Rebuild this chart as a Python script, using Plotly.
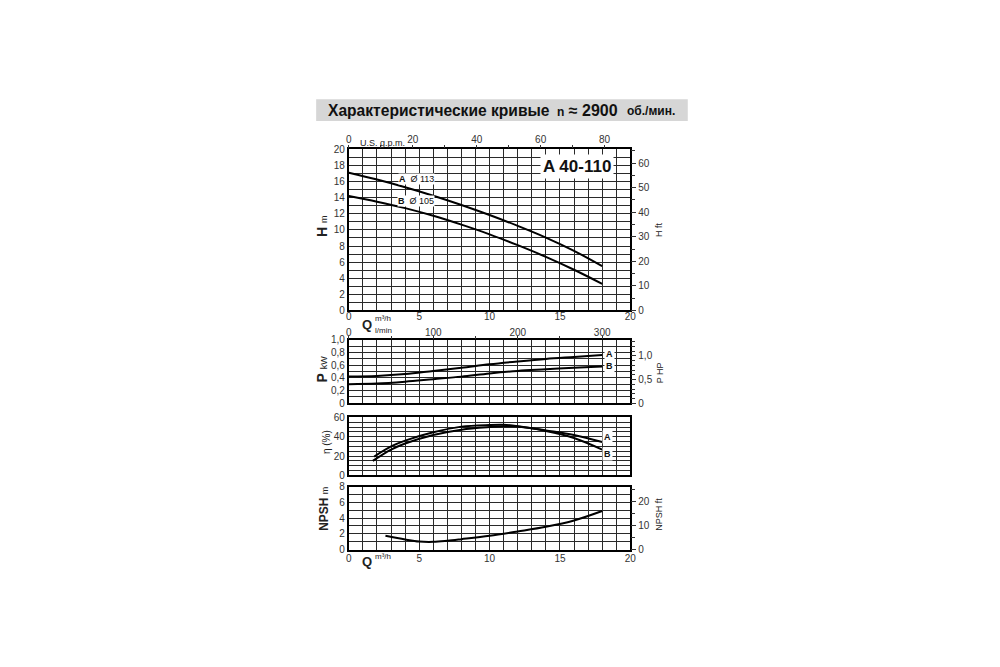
import plotly.graph_objects as go

# Q in m3/h
q_h = [0, 2, 4, 6, 8, 10, 12, 14, 16, 18]
h_a = [17.1, 16.25, 15.3, 14.25, 13.1, 11.85, 10.5, 9.05, 7.4, 5.5]
h_b = [14.2, 13.5, 12.7, 11.75, 10.65, 9.45, 8.1, 6.65, 5.05, 3.3]

q_p = [0, 2, 4, 6, 8, 10, 12, 14, 16, 18]
p_a = [0.42, 0.43, 0.46, 0.51, 0.56, 0.615, 0.66, 0.70, 0.73, 0.76]
p_b = [0.30, 0.31, 0.34, 0.38, 0.42, 0.47, 0.51, 0.535, 0.56, 0.58]

q_eff_a = [1.8, 3, 4, 6, 8, 10, 11, 12, 14, 16, 18]
eff_a = [19.5, 30, 36, 44.6, 50.5, 52.2, 52.4, 51, 46.6, 41.8, 34.5]
q_eff_b = [1.7, 3, 4, 6, 8, 10, 11, 12, 14, 16, 18]
eff_b = [15, 26.7, 33, 41.8, 47.3, 50, 50.8, 50.6, 46, 38.7, 26.7]

q_npsh = [2.6, 4, 5, 6, 7, 8, 10, 12, 14, 16, 18]
npsh = [1.75, 1.28, 1.02, 0.98, 1.12, 1.32, 1.75, 2.3, 2.9, 3.7, 4.9]

M_TO_FT = 3.2808
KW_TO_HP = 1 / 0.7457
M3H_TO_GPM = 4.4029
M3H_TO_LMIN = 16.6667

FONT = "Liberation Sans, Arial, sans-serif"
GRID = "#2a2a2a"
XDOM = [0.349, 0.633]

fig = go.Figure()

line = dict(color="black", width=2, shape="spline")
fig.add_trace(go.Scatter(x=q_h, y=h_a, mode="lines", line=line, xaxis="x", yaxis="y"))
fig.add_trace(go.Scatter(x=q_h, y=h_b, mode="lines", line=line, xaxis="x", yaxis="y"))
fig.add_trace(go.Scatter(x=q_p, y=p_a, mode="lines", line=line, xaxis="x3", yaxis="y3"))
fig.add_trace(go.Scatter(x=q_p, y=p_b, mode="lines", line=line, xaxis="x3", yaxis="y3"))
fig.add_trace(go.Scatter(x=q_eff_a, y=eff_a, mode="lines", line=line, xaxis="x5", yaxis="y5"))
fig.add_trace(go.Scatter(x=q_eff_b, y=eff_b, mode="lines", line=line, xaxis="x5", yaxis="y5"))
fig.add_trace(go.Scatter(x=q_npsh, y=npsh, mode="lines", line=line, xaxis="x6", yaxis="y6"))

# empty traces so the secondary (unit conversion) axes get drawn
for xa, ya in [("x2", "y"), ("x", "y2"), ("x4", "y3"), ("x3", "y4"), ("x6", "y7")]:
    fig.add_trace(go.Scatter(x=[None], y=[None], mode="lines", xaxis=xa, yaxis=ya,
                             hoverinfo="skip"))

tickfont = dict(family=FONT, size=10, color="#333")


def main_x(anchor, labels, standoff=0):
    return dict(
        domain=XDOM, anchor=anchor, range=[0, 20], tickmode="linear", tick0=0, dtick=5,
        showticklabels=labels, ticks="", tickfont=tickfont, ticklabelstandoff=standoff,
        showgrid=True, gridcolor=GRID, gridwidth=1,
        minor=dict(dtick=1, tick0=0, showgrid=True, gridcolor=GRID, gridwidth=1),
        showline=True, mirror=True, linecolor="black", linewidth=2, zeroline=False,
    )


def main_y(anchor, dom, rng, tickvals, ticktext, minor_dtick):
    return dict(
        domain=dom, anchor=anchor, range=rng, tickmode="array", tickvals=tickvals,
        ticktext=ticktext, ticks="", tickfont=tickfont,
        showgrid=True, gridcolor=GRID, gridwidth=1,
        minor=dict(dtick=minor_dtick, tick0=0, showgrid=True, gridcolor=GRID, gridwidth=1),
        showline=True, mirror=True, linecolor="black", linewidth=2, zeroline=False,
    )


def right_y(overlay, anchor, rng, tickvals, ticktext, minor_dtick):
    return dict(
        overlaying=overlay, anchor=anchor, side="right", range=rng, tickmode="array",
        tickvals=tickvals, ticktext=ticktext, ticks="outside", ticklen=5, tickcolor="#333",
        tickfont=tickfont, showgrid=False, zeroline=False, showline=False,
        minor=dict(dtick=minor_dtick, tick0=0, ticks="outside", ticklen=4, tickcolor="#333",
                   showgrid=False),
    )


def top_x(overlay, anchor, rng, dtick, minor_dtick, standoff=0):
    return dict(
        overlaying=overlay, anchor=anchor, side="top", range=rng, tickmode="linear",
        tick0=0, dtick=dtick, ticks="outside", ticklen=3, tickcolor="#333",
        tickfont=tickfont, ticklabelstandoff=standoff, showgrid=False, zeroline=False,
        showline=False,
        minor=dict(dtick=minor_dtick, tick0=0, ticks="outside", ticklen=3, tickcolor="#333",
                   showgrid=False),
    )


dom_h = [1 - 310 / 667, 1 - 146 / 667]
dom_p = [1 - 404.5 / 667, 1 - 340 / 667]
dom_e = [1 - 478 / 667, 1 - 419 / 667]
dom_n = [1 - 553.5 / 667, 1 - 489.5 / 667]

fig.update_layout(
    xaxis=main_x("y", True, -4),
    yaxis=main_y("x", dom_h, [0, 20], list(range(0, 21, 2)), [str(v) for v in range(0, 21, 2)], 1),
    yaxis2=right_y("y", "x", [0, 20 * M_TO_FT], list(range(0, 61, 10)),
                   [str(v) for v in range(0, 61, 10)], 5),
    xaxis2=top_x("x", "y", [0, 20 * M3H_TO_GPM], 20, 10, -2),
    xaxis3=main_x("y3", False),
    yaxis3=main_y("x3", dom_p, [0, 1.0], [0, 0.2, 0.4, 0.6, 0.8, 1.0],
                  ["0", "0,2", "0,4", "0,6", "0,8", "1,0"], 0.1),
    yaxis4=right_y("y3", "x3", [0, 1.0 * KW_TO_HP], [0, 0.5, 1.0], ["0", "0,5", "1,0"], 0.1),
    xaxis4=top_x("x3", "y3", [0, 20 * M3H_TO_LMIN], 100, 50, -4),
    xaxis5=main_x("y5", False),
    yaxis5=main_y("x5", dom_e, [0, 60], [0, 20, 40, 60], ["0", "20", "40", "60"], 5),
    xaxis6=main_x("y6", True, -2),
    yaxis6=main_y("x6", dom_n, [0, 8], [0, 2, 4, 6, 8], ["0", "2", "4", "6", "8"], 1),
    yaxis7=right_y("y6", "x6", [0, 8 * M_TO_FT], [0, 10, 20], ["0", "10", "20"], 5),
)

ann = []


def paper_text(x, y, text, size=10, angle=0, xanchor="center", color="#222"):
    ann.append(dict(
        x=x / 1000, y=1 - y / 667, xref="paper", yref="paper", text=text, showarrow=False,
        textangle=angle, xanchor=xanchor, yanchor="middle",
        font=dict(family=FONT, size=size, color=color),
    ))


# title
paper_text(326, 106, "<b>Характеристические кривые</b>", size=15.6, xanchor="left", color="#111")
paper_text(557, 106, "<b><span style='font-size:12px'>n</span> ≈ 2900</b>", size=16,
           xanchor="left", color="#111")
paper_text(628, 107, "<b>об./мин.</b>", size=12, xanchor="left", color="#111")

# left axis titles
paper_text(322, 224, "<b>H</b> <span style='font-size:9px'>m</span>", size=14, angle=-90)
paper_text(322, 370, "<b>P</b> <span style='font-size:9px'>kW</span>", size=14, angle=-90)
paper_text(326, 444, "η (%)", size=10, angle=-90)
paper_text(324, 512, "<b>NPSH</b> <span style='font-size:9px'>m</span>", size=12, angle=-90)

# right axis titles
paper_text(662, 228, "H ft", size=9, angle=-90)
paper_text(663, 374, "P HP", size=9, angle=-90)
paper_text(662, 518, "NPSH ft", size=9, angle=-90)

# flow labels
paper_text(358, 140, "U.S. g.p.m.", size=9, xanchor="left")
paper_text(360, 324, "<b>Q</b>", size=13, xanchor="left")
paper_text(373, 318, "m³/h", size=8, xanchor="left")
paper_text(373, 330, "l/min", size=8, xanchor="left")
paper_text(360, 566, "<b>Q</b>", size=13, xanchor="left")
paper_text(373, 561, "m³/h", size=8, xanchor="left")

# curve labels in data coordinates
data_ann = [
    dict(x=4.8, y=16.3, xref="x", yref="y", text="<b>A</b>  Ø 113", font=dict(size=9),
         borderpad=0),
    dict(x=4.8, y=13.55, xref="x", yref="y", text="<b>B</b>  Ø 105", font=dict(size=9),
         borderpad=0),
    dict(x=16.2, y=17.9, xref="x", yref="y", text="<b>A 40-110</b>", font=dict(size=17),
         borderpad=2),
    dict(x=18.5, y=0.78, xref="x3", yref="y3", text="<b>A</b>", font=dict(size=9)),
    dict(x=18.5, y=0.585, xref="x3", yref="y3", text="<b>B</b>", font=dict(size=9)),
    dict(x=18.4, y=39.4, xref="x5", yref="y5", text="<b>A</b>", font=dict(size=9)),
    dict(x=18.4, y=22.3, xref="x5", yref="y5", text="<b>B</b>", font=dict(size=9)),
]
for d in data_ann:
    d["font"].update(family=FONT, color="#111")
    d.update(showarrow=False, bgcolor="white", xanchor="center", yanchor="middle")
    ann.append(d)

fig.update_layout(
    annotations=ann,
    shapes=[dict(type="rect", xref="paper", yref="paper", x0=0.316, x1=0.691,
                 y0=1 - 117 / 667, y1=1 - 95 / 667, fillcolor="#d6d6d6", line_width=0,
                 layer="below")],
    width=1000, height=667, margin=dict(l=0, r=0, t=0, b=0),
    paper_bgcolor="white", plot_bgcolor="white", showlegend=False,
    font=dict(family=FONT),
)

# page body margin would push the 1000x667 figure out of the window
fig.write_html("out.html", config={"displayModeBar": False},
               post_script="document.body.style.margin='0';")
